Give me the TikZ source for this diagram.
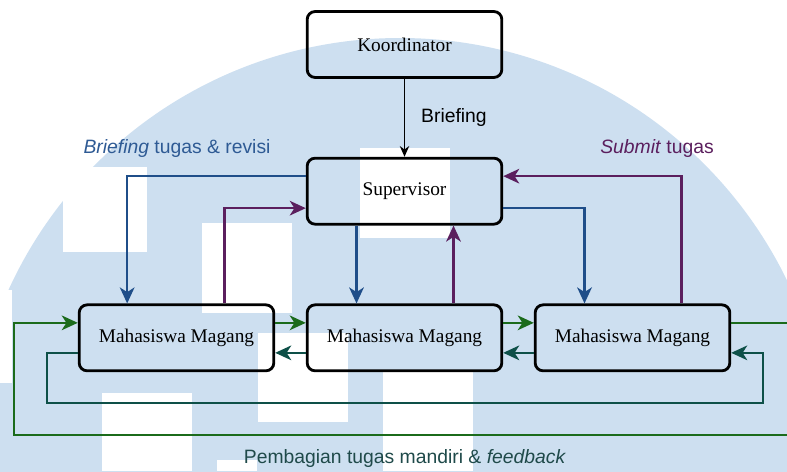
\documentclass[tikz,border=0pt]{standalone}
\usepackage{fontspec}
\setmainfont{Liberation Serif}
\setsansfont{Liberation Sans}
\usepackage{xcolor}
\usepackage{tikz}
\usetikzlibrary{arrows.meta,positioning}

\definecolor{wmblue}{HTML}{CDDFF0}
\definecolor{lineblue}{HTML}{1F4E89}
\definecolor{labelblue}{HTML}{2E5A94}
\definecolor{linepurple}{HTML}{5B1F5E}
\definecolor{linegreen}{HTML}{1B6B1B}
\definecolor{lineteal}{HTML}{0E5048}
\definecolor{labelteal}{HTML}{1F4A4A}

\tikzset{
    box/.style={draw, rectangle, rounded corners=6pt, line width=2.1pt,
        minimum width=146pt, minimum height=49.5pt,
        font=\fontsize{14.5}{16}\selectfont},
    flow/.style={line width=1.7pt, -{Stealth[length=12pt, width=11pt, inset=3.5pt]}},
    lbl/.style={font=\sffamily\fontsize{14.5}{16}\selectfont, inner sep=0pt}
}

\begin{document}
\begin{tikzpicture}[x=0.75pt, y=-0.75pt, node distance=110pt, auto]
    \useasboundingbox (0,0) rectangle (787,471);

    % Watermark
    \begin{scope}
        \clip (0,0) rectangle (787,471);
        \fill[wmblue] (400,468) circle[radius=322.5pt];
        \fill[white] (63,167) rectangle (147,252);
        \fill[white] (202,223) rectangle (292,313);
        \fill[white] (360,148) rectangle (450,238);
        \fill[white] (258,333) rectangle (348,422);
        \fill[white] (102,393) rectangle (192,471);
        \fill[white] (383,370) rectangle (473,471);
        \fill[white] (217,460) rectangle (257,471);
        \fill[white] (0,290) rectangle (12,383);
    \end{scope}

    % Nodes
    \node[box] (koordinator) at (404.5,44.5) {Koordinator};
    \node[box, below of=koordinator] (supervisor) {Supervisor};
    \node[box, below of=supervisor] (mm2) {Mahasiswa Magang};
    \node[box, left of=mm2, node distance=171pt] (mm1) {Mahasiswa Magang};
    \node[box, right of=mm2, node distance=171pt] (mm3) {Mahasiswa Magang};

    \coordinate (greenR) at (800,435);
    \coordinate (greenL) at (14,435);
    \coordinate (tealL) at (47,403);
    \coordinate (tealR) at (763,403);

    % Labels
    \node[lbl, text=labelblue] (lblbrief) at (177,148) {\textit{Briefing} tugas \& revisi};
    \node[lbl, text=linepurple] (lblsubmit) at (657,148) {\textit{Submit} tugas};
    \node[lbl, text=labelteal] (lblbagi) at (405,458) {Pembagian tugas mandiri \& \textit{feedback}};

    % Arrows
    \draw[line width=1pt, -{Stealth[length=8pt, width=7pt, inset=2.5pt]}] (koordinator) -- (supervisor)
        node[midway, right=12pt, lbl] {Briefing};

    \draw[flow, lineblue] ([yshift=11.25pt]supervisor.west) -| ([xshift=-37pt]mm1.north);
    \draw[flow, linepurple] ([xshift=36pt]mm1.north) |- ([yshift=-12.75pt]supervisor.west);
    \draw[flow, lineblue] ([xshift=-36pt]supervisor.south) -- ([xshift=-36pt]mm2.north);
    \draw[flow, linepurple] ([xshift=36.75pt]mm2.north) -- ([xshift=36.75pt]supervisor.south);
    \draw[flow, lineblue] ([yshift=-12.75pt]supervisor.east) -| ([xshift=-36pt]mm3.north);
    \draw[flow, linepurple] ([xshift=36.75pt]mm3.north) |- ([yshift=11.25pt]supervisor.east);

    \draw[flow, linegreen] ([yshift=11.25pt]mm1.east) -- ([yshift=11.25pt]mm2.west);
    \draw[flow, linegreen] ([yshift=11.25pt]mm2.east) -- ([yshift=11.25pt]mm3.west);
    \draw[flow, linegreen] ([yshift=11.25pt]mm3.east) -| (greenR) -- (greenL) |- ([yshift=11.25pt]mm1.west);

    \draw[flow, lineteal] ([yshift=-11.25pt]mm3.west) -- ([yshift=-11.25pt]mm2.east);
    \draw[flow, lineteal] ([yshift=-11.25pt]mm2.west) -- ([yshift=-11.25pt]mm1.east);
    \draw[flow, lineteal] ([yshift=-11.25pt]mm1.west) -| (tealL) -- (tealR) |- ([yshift=-11.25pt]mm3.east);
\end{tikzpicture}
\end{document}
